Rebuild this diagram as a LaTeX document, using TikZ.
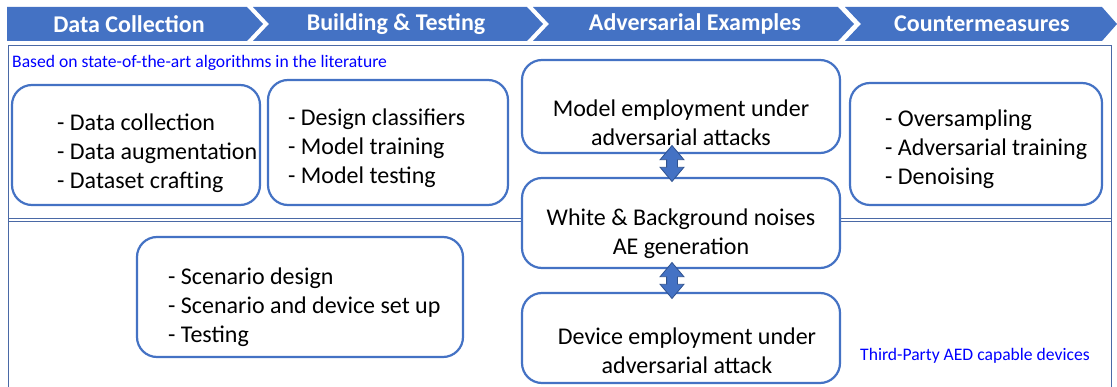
\documentclass[tikz,border=0pt]{standalone}
\usepackage{fontspec}
\setmainfont{Carlito}
\usetikzlibrary{shapes.arrows,calc}
\definecolor{obl}{HTML}{4472C4}
\definecolor{fr}{HTML}{4A69A6}
\definecolor{ao}{HTML}{2F528F}
\definecolor{bt}{HTML}{0000FF}
\begin{document}
\begin{tikzpicture}[x=1pt,y=1pt,
  chev/.style={fill=obl,draw=none},
  chevtxt/.style={text=white,font=\fontsize{24}{29}\selectfont\bfseries,inner sep=0pt},
  box/.style={draw=obl,line width=2.2pt,rounded corners=20pt,fill=white,inner sep=0pt},
  txt/.style={font=\fontsize{24}{29}\selectfont,align=left,inner sep=0pt},
  ctxt/.style={font=\fontsize{24}{29}\selectfont,align=center,inner sep=0pt},
  btxt/.style={font=\fontsize{17.6}{21}\selectfont,text=bt,inner sep=0pt},
  dblarr/.style={double arrow,fill=obl,draw=ao,line width=0.8pt,shape border rotate=90,
    minimum height=36pt,inner sep=5pt,double arrow head extend=6.5pt,double arrow tip angle=80}
]
\useasboundingbox (0,0) rectangle (1117,-387);
% chevrons
\path[chev] (7,-7) -- (247,-7) -- (263,-24) -- (247,-41) -- (7,-41) -- cycle;
\path[chev] (253,-7) -- (527,-7) -- (543,-24) -- (527,-41) -- (253,-41) -- (269,-24) -- cycle;
\path[chev] (533,-7) -- (838,-7) -- (854,-24) -- (838,-41) -- (533,-41) -- (549,-24) -- cycle;
\path[chev] (845,-7) -- (1102,-7) -- (1117,-24) -- (1102,-41) -- (845,-41) -- (861,-24) -- cycle;
\node[chevtxt] (h1) at (129,-24) {Data Collection};
\node[chevtxt] (h2) at (396,-24) {Building \& Testing};
\node[chevtxt] (h3) at (695,-24) {Adversarial Examples};
\node[chevtxt] (h4) at (982,-24) {Countermeasures};
% frame
\draw[fr,line width=0.9pt] (8,-387) -- (8,-45) -- (1111,-45) -- (1111,-387);
\draw[fr,line width=0.9pt] (8,-218.5) -- (1111,-218.5);
\draw[fr,line width=0.9pt] (8,-221.5) -- (1111,-221.5);
% labels
\node[btxt,anchor=west] (lit) at (12,-63) {Based on state-of-the-art algorithms in the literature};
\node[btxt,anchor=west] (aed) at (860,-356) {Third-Party AED capable devices};
% boxes
\node[box,minimum width=248pt,minimum height=120pt] (b1) at (136,-145) {};
\node[box,minimum width=240pt,minimum height=125pt] (b2) at (388,-142.5) {};
\node[box,minimum width=318pt,minimum height=93pt] (b3) at (681,-106.5) {};
\node[box,minimum width=318pt,minimum height=90pt] (b4) at (681,-223) {};
\node[box,minimum width=318pt,minimum height=90pt] (b5) at (681,-338) {};
\node[box,minimum width=252pt,minimum height=122pt] (b6) at (976,-144) {};
\node[box,minimum width=326pt,minimum height=120pt] (b7) at (300,-297) {};
% texts
\node[txt,anchor=west] (t1) at (57,-153) {- Data collection\\- Data augmentation\\- Dataset crafting};
\node[txt,anchor=west] (t2) at (288,-148) {- Design classifiers\\- Model training\\- Model testing};
\node[ctxt] (t3) at (681,-123) {Model employment under\\adversarial attacks};
\node[ctxt] (t4) at (681,-234) {White \& Background noises\\AE generation};
\node[ctxt] (t5) at (687,-351) {Device employment under\\adversarial attack};
\node[txt,anchor=west] (t6) at (885,-149) {- Oversampling\\- Adversarial training\\- Denoising};
\node[txt,anchor=west] (t7) at (168,-307) {- Scenario design\\- Scenario and device set up\\- Testing};
% arrows
\node[dblarr] (a1) at ($(b3.south)!0.5!(b4.north)+(-9,2)$) {};
\node[dblarr] (a2) at ($(b4.south)!0.5!(b5.north)+(-9,0)$) {};
\end{tikzpicture}
\end{document}
